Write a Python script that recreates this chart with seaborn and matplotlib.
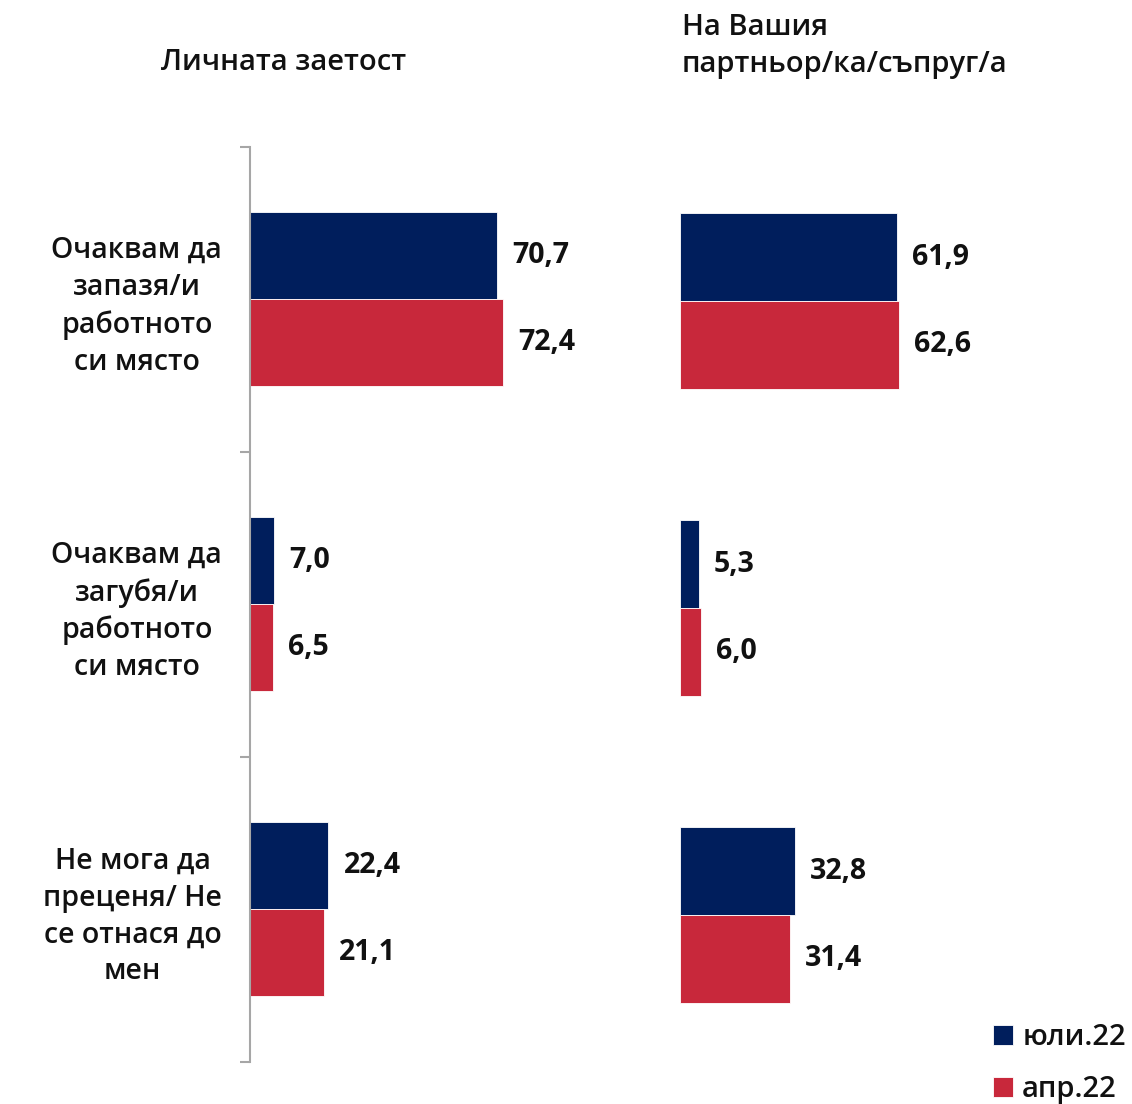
import matplotlib
matplotlib.use("Agg")
import matplotlib.pyplot as plt
import seaborn as sns
import pandas as pd

categories = [
    "Очаквам да\nзапазя/и\nработното\nси място",
    "Очаквам да\nзагубя/и\nработното\nси място",
    "Не мога да\nпреценя/ Не\nсе отнася до\nмен",
]
periods = ["юли.22", "апр.22"]
own_jul = [70.7, 7.0, 22.4]
own_apr = [72.4, 6.5, 21.1]
partner_jul = [61.9, 5.3, 32.8]
partner_apr = [62.6, 6.0, 31.4]

title_left = "Личната заетост"
title_right = "На Вашия\nпартньор/ка/съпруг/а"

colors = {"юли.22": "#001E5C", "апр.22": "#C8283B"}

sns.set_theme(style="white")
plt.rcParams["font.family"] = ["Open Sans", "DejaVu Sans"]


def long_frame(jul, apr):
    rows = []
    for c, v in zip(categories, jul):
        rows.append({"cat": c, "period": periods[0], "value": v})
    for c, v in zip(categories, apr):
        rows.append({"cat": c, "period": periods[1], "value": v})
    return pd.DataFrame(rows)


W, H = 1132, 1104
fig = plt.figure(figsize=(W / 100, H / 100), dpi=100)

ax_l = fig.add_axes([250 / W, 1 - 1061.5 / H, 349 / W, 915 / H])
ax_r = fig.add_axes([680 / W, 1 - 1068.5 / H, 350 / W, 921 / H])


def fmt(v):
    return f"{v:.1f}".replace(".", ",")


for ax, (jul, apr) in [(ax_l, (own_jul, own_apr)), (ax_r, (partner_jul, partner_apr))]:
    df = long_frame(jul, apr)
    sns.barplot(data=df, x="value", y="cat", hue="period", order=categories,
                hue_order=periods, palette=colors, orient="h", width=0.573,
                saturation=1, edgecolor="white", linewidth=0.6, ax=ax,
                legend=(ax is ax_r))
    ax.set_xlim(0, 100)
    ax.set_xlabel("")
    ax.set_ylabel("")
    ax.set_xticks([])
    for cont, vals in zip(ax.containers, (jul, apr)):
        ax.bar_label(cont, labels=[fmt(v) for v in vals], padding=11,
                     fontsize=20.5, fontweight="bold", color="#111111")
    for s in ["top", "right", "bottom"]:
        ax.spines[s].set_visible(False)

# left panel: gray axis line with separators between categories
ax_l.spines["left"].set_color("#A6A6A6")
ax_l.spines["left"].set_linewidth(1.5)
ax_l.set_yticks(range(len(categories)))
ax_l.set_yticklabels(categories, multialignment="center", fontsize=20.5,
                     fontweight="semibold", color="#111111", linespacing=1.36)
ax_l.tick_params(axis="y", which="major", length=0, pad=20)
ax_l.set_yticks([-0.5, 0.5, 1.5, 2.5], minor=True)
ax_l.tick_params(axis="y", which="minor", length=7, width=1.5, color="#A6A6A6", left=True)

ax_r.spines["left"].set_visible(False)
ax_r.set_yticks([])

fig.text(284 / W, 1 - 63 / H, title_left, ha="center", va="center",
         fontsize=21, fontweight="semibold", color="#111111")
fig.text(682 / W, 1 - 46 / H, title_right, ha="left", va="center",
         fontsize=21, fontweight="semibold", color="#111111", linespacing=1.38)

sns.move_legend(ax_r, "lower left", bbox_to_anchor=(993 / W, 0),
                bbox_transform=fig.transFigure, title=None, frameon=False,
                fontsize=21, handlelength=0.7, handleheight=0.7,
                handletextpad=0.3, labelspacing=0.78, borderpad=0,
                borderaxespad=0)
leg = ax_r.get_legend()
for t in leg.get_texts():
    t.set_fontweight("semibold")
    t.set_color("#111111")

fig.savefig("out.png", dpi=100, facecolor="white")
